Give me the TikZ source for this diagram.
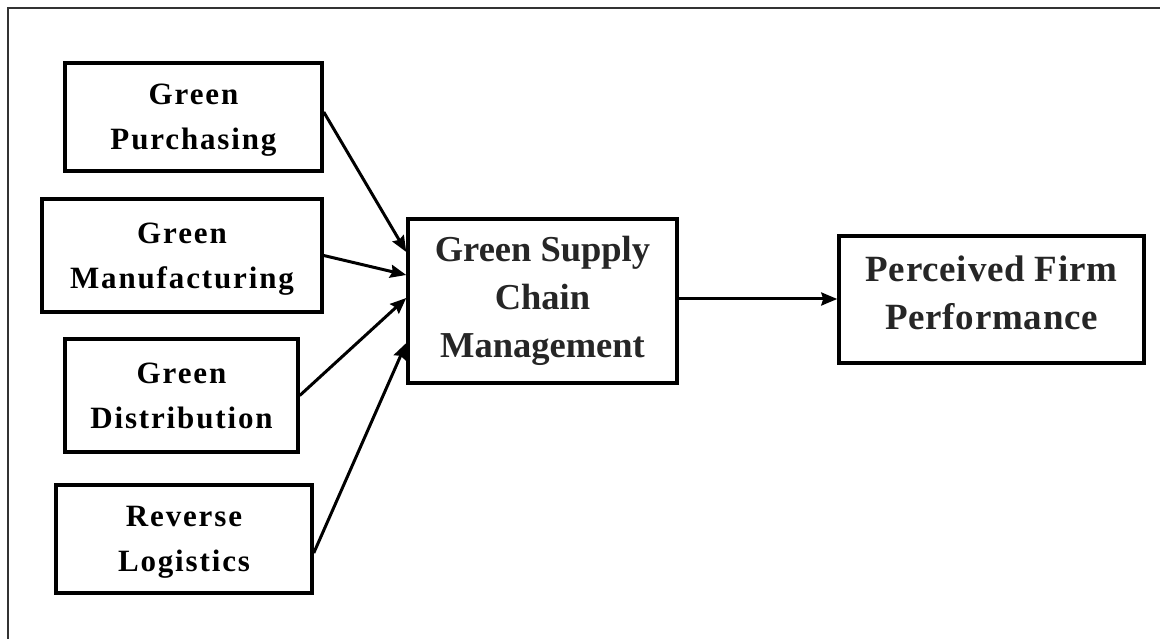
\documentclass[tikz,border=0pt]{standalone}
\usepackage{fontspec}
\setmainfont{Liberation Serif}
\newfontfamily\leftfont[LetterSpace=6]{Liberation Serif}
\newfontfamily\pfpfont[LetterSpace=2]{Liberation Serif}
\usetikzlibrary{arrows.meta}
\begin{document}
\begin{tikzpicture}[x=1pt,y=-1pt,
  boxstyle/.style={draw=black,line width=3.5pt,rectangle,inner sep=0pt,align=center},
  leftbox/.style={boxstyle,font=\leftfont\bfseries\fontsize{31}{45}\selectfont,text=black,text depth=0pt},
  bigbox/.style={boxstyle,font=\bfseries\fontsize{36.5}{48}\selectfont,text=black!85},
  conn/.style={line width=3pt,-{Stealth[length=16pt,width=13pt,inset=2pt]}}]
\useasboundingbox (0,0) rectangle (1160,639);
\draw[line width=1.5pt,black!80] (8,639) -- (8,8) -- (1160,8);
\node[leftbox,minimum width=257pt,minimum height=108pt] (b1) at (193.5,117) {Green\\Purchasing};
\node[leftbox,minimum width=280pt,minimum height=113pt] (b2) at (182,255.5) {Green\\Manufacturing};
\node[leftbox,minimum width=233pt,minimum height=113pt] (b3) at (181.5,395.5) {Green\\Distribution};
\node[leftbox,minimum width=256pt,minimum height=108pt] (b4) at (184,539) {Reverse\\Logistics};
\node[bigbox,minimum width=269pt,minimum height=164pt] (gscm) at (542.5,301) {Green Supply\\Chain\\Management};
\node[bigbox,font=\pfpfont\bfseries\fontsize{37}{48}\selectfont,minimum width=305pt,minimum height=127pt,text depth=14pt] (pfp) at (991.5,299.5) {Perceived Firm\\Performance};
\draw[conn] ([yshift=5pt]b1.east) -- ([yshift=49pt]gscm.west);
\draw[conn] (b2.east) -- ([yshift=26pt]gscm.west);
\draw[conn] (b3.east) -- ([yshift=3pt]gscm.west);
\draw[conn] ([yshift=-14pt]b4.east) -- ([yshift=-42pt]gscm.west);
\draw[conn] ([yshift=2pt]gscm.east) -- ([yshift=2pt]gscm.east -| pfp.west);
\end{tikzpicture}
\end{document}
